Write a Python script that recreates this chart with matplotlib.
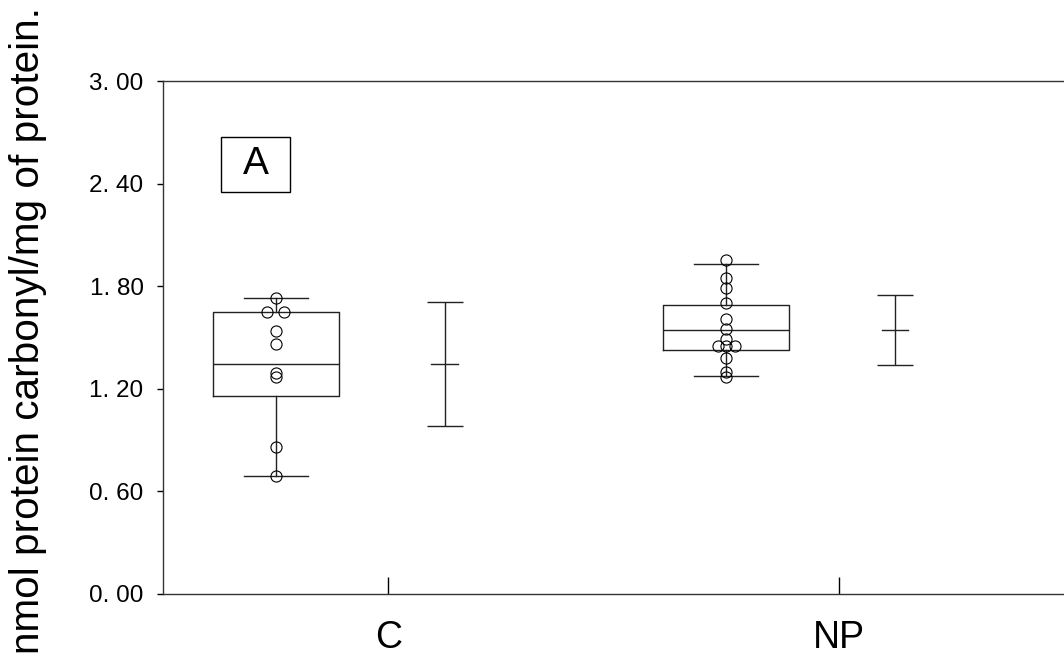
import matplotlib.pyplot as plt
from matplotlib.patches import Rectangle
import numpy as np

plt.rcParams['font.family'] = ['Liberation Sans', 'DejaVu Sans']

groups = ['C', 'NP']
# individual values
c_values = [1.729, 1.649, 1.649, 1.540, 1.460, 1.294, 1.267, 0.858, 0.690]
np_values = [1.953, 1.846, 1.791, 1.700, 1.608, 1.548, 1.493,
             1.450, 1.450, 1.450, 1.378, 1.300, 1.271]
# box statistics (whisker low, q1, median, q3, whisker high)
box_low = [0.690, 1.277]
box_q1 = [1.160, 1.429]
box_med = [1.345, 1.544]
box_q3 = [1.649, 1.688]
box_high = [1.729, 1.928]
# mean +/- SD
means = [1.347, 1.544]
sds = [0.363, 0.206]
ytick_vals = [0.0, 0.6, 1.2, 1.8, 2.4, 3.0]
ytick_labels = ['0. 00', '0. 60', '1. 20', '1. 80', '2. 40', '3. 00']

fig = plt.figure(figsize=(10.64, 6.6), dpi=100)
ax = fig.add_axes([163 / 1064, 1 - 594 / 660, 1 - 163 / 1064, 513 / 660])

pos = np.arange(1, len(groups) + 1)
box_pos = pos - 0.25
mean_pos = pos + 0.125
line_col = '#222222'

stats = []
for i in range(len(groups)):
    stats.append(dict(whislo=box_low[i], q1=box_q1[i], med=box_med[i],
                      q3=box_q3[i], whishi=box_high[i], fliers=[]))
ax.bxp(stats, positions=box_pos, widths=0.28, showfliers=False,
       boxprops=dict(color=line_col, lw=1),
       medianprops=dict(color=line_col, lw=1),
       whiskerprops=dict(color=line_col, lw=1),
       capprops=dict(color=line_col, lw=1), capwidths=0.142)

# scatter the raw points, spreading duplicates sideways
for i, vals in enumerate([c_values, np_values]):
    vals = np.array(vals)
    xs = np.full(len(vals), box_pos[i], dtype=float)
    for v in np.unique(vals):
        idx = np.where(vals == v)[0]
        if len(idx) > 1:
            xs[idx] += np.linspace(-0.019, 0.019, len(idx))
    ax.plot(xs, vals, 'o', ms=8, mfc='none', mec='black', mew=0.8, zorder=5)

ax.errorbar(mean_pos, means, yerr=sds, fmt='none', ecolor=line_col,
            elinewidth=1, capsize=13, capthick=1)
ax.plot([mean_pos - 0.029, mean_pos + 0.029], [means, means],
        color=line_col, lw=1)

# panel label
ax.add_patch(Rectangle((0.629, 2.353), 0.154, 0.318, fill=False,
                       ec='black', lw=1))
ax.text(0.706, 2.512, 'A', fontsize=28, ha='center', va='center')

ax.set_xlim(0.5, 2.5)
ax.set_ylim(0, 3.0)
ax.set_xticks(pos)
ax.set_xticklabels(groups, fontsize=27)
ax.set_yticks(ytick_vals)
ax.set_yticklabels(ytick_labels, fontsize=17.5)
ax.tick_params(axis='x', direction='in', length=12, width=1, pad=19)
ax.tick_params(axis='y', direction='out', length=4, width=1, pad=10)
ax.spines['right'].set_visible(False)
for s in ['left', 'top', 'bottom']:
    ax.spines[s].set_linewidth(1)
    ax.spines[s].set_color('#333333')

fig.text(28 / 1064, 0.5, 'nmol protein carbonyl/mg of protein.',
         rotation=90, fontsize=29.2, ha='center', va='center')

fig.savefig('out.png', dpi=100)
